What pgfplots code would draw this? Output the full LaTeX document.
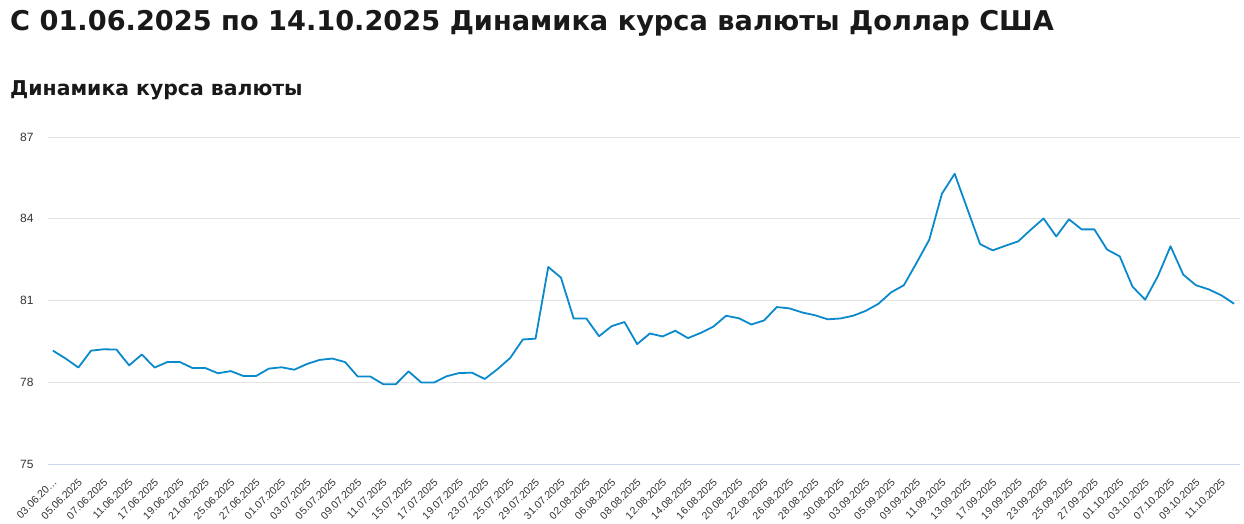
\documentclass[border=0pt]{standalone}
\usepackage{pgfplots}
\pgfplotsset{compat=1.18}
\usepackage{fontspec}
\setmainfont{Liberation Sans}
\newfontfamily\titlefont{DejaVu Sans}
\definecolor{linec}{HTML}{0A89CD}
\definecolor{gridc}{HTML}{E3E3E3}
\definecolor{basec}{HTML}{C9D9EE}
\definecolor{txt}{HTML}{333333}
\begin{document}
\begin{tikzpicture}
\path[use as bounding box] (0pt,0pt) rectangle (1244pt,-524pt);
\node[anchor=base west, inner sep=0pt, font=\titlefont\fontsize{27.2}{30}\selectfont\bfseries, text=black!90] at (10pt,-31pt) {С 01.06.2025 по 14.10.2025 Динамика курса валюты Доллар США};
\node[anchor=base west, inner sep=0pt, font=\titlefont\fontsize{20.4}{24}\selectfont\bfseries, text=black!90] at (10pt,-96pt) {Динамика курса валюты};
\begin{axis}[
  at={(48pt,-464pt)}, anchor=south west,
  scale only axis, width=1192pt, height=327pt,
  xmin=-0.39, xmax=93.47, ymin=75, ymax=87,
  ytick={75,78,81,84,87},
  xtick={0,2,4,6,8,10,12,14,16,18,20,22,24,26,28,30,32,34,36,38,40,42,44,46,48,50,52,54,56,58,60,62,64,66,68,70,72,74,76,78,80,82,84,86,88,90,92},
  xticklabels={{03.06.20\ldots},05.06.2025,07.06.2025,11.06.2025,17.06.2025,19.06.2025,21.06.2025,25.06.2025,27.06.2025,01.07.2025,03.07.2025,05.07.2025,09.07.2025,11.07.2025,15.07.2025,17.07.2025,19.07.2025,23.07.2025,25.07.2025,29.07.2025,31.07.2025,02.08.2025,06.08.2025,08.08.2025,12.08.2025,14.08.2025,16.08.2025,20.08.2025,22.08.2025,26.08.2025,28.08.2025,30.08.2025,03.09.2025,05.09.2025,09.09.2025,11.09.2025,13.09.2025,17.09.2025,19.09.2025,23.09.2025,25.09.2025,27.09.2025,01.10.2025,03.10.2025,07.10.2025,09.10.2025,11.10.2025},
  /pgf/number format/assume math mode=true,
  major tick length=0pt,
  ymajorgrids, grid style={gridc, line width=0.8pt},
  axis x line*=bottom, axis y line*=left,
  x axis line style={basec, line width=1pt},
  y axis line style={draw=none},
  yticklabel style={font=\fontsize{12}{13}\selectfont, text=txt, xshift=-11pt},
  xticklabel style={font=\fontsize{10.5}{12}\selectfont, text=txt, rotate=45, anchor=north east, inner sep=1pt, yshift=-8pt, xshift=-9pt},
  clip=false,
]
\addplot[linec, line width=1.8pt, line join=round] coordinates {
(0,79.16)(1,78.87)(2,78.54)(3,79.16)(4,79.21)(5,79.20)(6,78.62)(7,79.02)(8,78.54)(9,78.74)
(10,78.74)(11,78.52)(12,78.52)(13,78.33)(14,78.41)(15,78.23)(16,78.23)(17,78.50)(18,78.55)(19,78.46)
(20,78.67)(21,78.82)(22,78.87)(23,78.74)(24,78.21)(25,78.21)(26,77.93)(27,77.93)(28,78.40)(29,77.99)
(30,77.99)(31,78.22)(32,78.34)(33,78.35)(34,78.12)(35,78.48)(36,78.89)(37,79.57)(38,79.60)(39,82.23)
(40,81.84)(41,80.34)(42,80.34)(43,79.69)(44,80.06)(45,80.21)(46,79.40)(47,79.79)(48,79.68)(49,79.89)
(50,79.62)(51,79.81)(52,80.04)(53,80.44)(54,80.35)(55,80.12)(56,80.27)(57,80.76)(58,80.71)(59,80.56)
(60,80.46)(61,80.31)(62,80.34)(63,80.44)(64,80.62)(65,80.88)(66,81.30)(67,81.56)(68,82.38)(69,83.23)
(70,84.92)(71,85.65)(72,84.36)(73,83.07)(74,82.84)(75,83.01)(76,83.17)(77,83.60)(78,84.01)(79,83.35)
(80,83.98)(81,83.61)(82,83.61)(83,82.87)(84,82.62)(85,81.51)(86,81.03)(87,81.89)(88,82.99)(89,81.95)
(90,81.56)(91,81.41)(92,81.19)(93,80.88)
};
\end{axis}
\end{tikzpicture}
\end{document}
